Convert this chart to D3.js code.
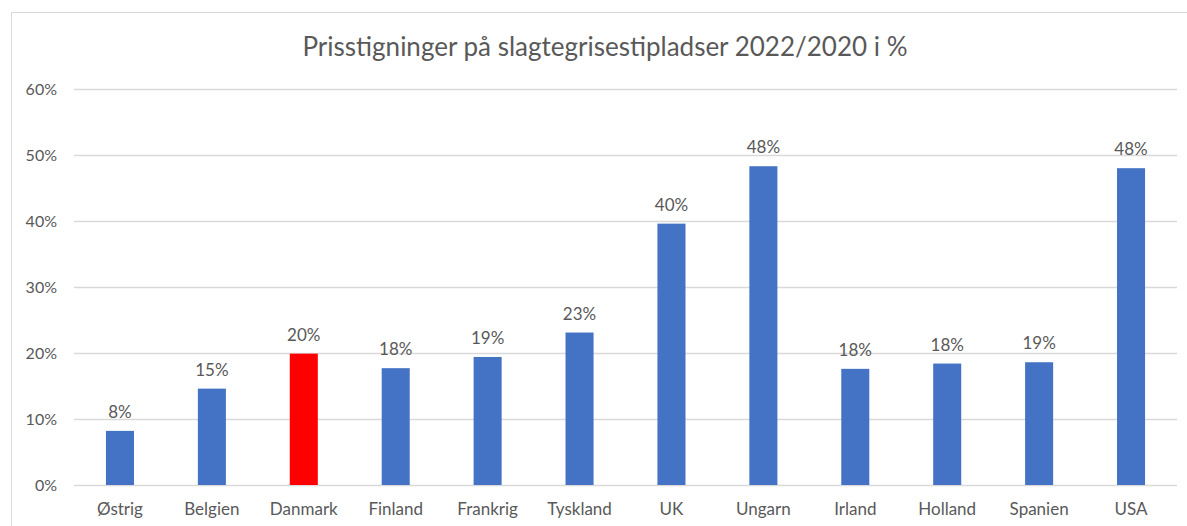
<!DOCTYPE html>
<html>
<head>
<meta charset="utf-8">
<script src="https://cdn.jsdelivr.net/npm/d3@7"></script>
<style>
  body { margin: 0; background: #fff; }
  text { font-family: Lato, "Open Sans", sans-serif; fill: #595959; }
</style>
</head>
<body>
<div id="chart"></div>
<script>
var countries = ["Østrig", "Belgien", "Danmark", "Finland", "Frankrig", "Tyskland", "UK", "Ungarn", "Irland", "Holland", "Spanien", "USA"];
var increases = [0.082, 0.146, 0.199, 0.177, 0.194, 0.231, 0.396, 0.483, 0.176, 0.184, 0.186, 0.480];
var yTicks = [0, 0.1, 0.2, 0.3, 0.4, 0.5, 0.6];
var highlight = "Danmark";

function init(){
  var w = 1187;
  var h = 526;
  var margin = {left: 74, right: 10, top: 89, bottom: 41};

  var svg = d3.select("#chart")
              .append("svg")
              .attr("width", w)
              .attr("height", h);

  // outer frame
  svg.append("rect")
     .attr("x", 11.5).attr("y", 12.5)
     .attr("width", w).attr("height", h)
     .attr("fill", "none")
     .attr("stroke", "#d9d9d9");

  var x = d3.scaleBand()
            .domain(countries)
            .range([margin.left, w - margin.right])
            .paddingInner(0.695)
            .paddingOuter(0.3475);

  var y = d3.scaleLinear()
            .domain([0, 0.6])
            .range([h - margin.bottom, margin.top]);

  // gridlines
  svg.selectAll("line.grid")
     .data(yTicks)
     .enter()
     .append("line")
     .attr("class", "grid")
     .attr("x1", margin.left)
     .attr("x2", w - margin.right)
     .attr("y1", function(d){ return Math.round(y(d)) + 0.5; })
     .attr("y2", function(d){ return Math.round(y(d)) + 0.5; })
     .attr("stroke", "#d9d9d9")
     .attr("stroke-width", 1.3);

  // y tick labels
  svg.selectAll("text.ytick")
     .data(yTicks)
     .enter()
     .append("text")
     .attr("class", "ytick")
     .attr("x", 57)
     .attr("y", function(d){ return y(d) + 6; })
     .attr("text-anchor", "end")
     .style("font-size", "16px")
     .text(d3.format(".0%"));

  // bars
  svg.selectAll("rect.bar")
     .data(increases)
     .enter()
     .append("rect")
     .attr("class", "bar")
     .attr("x", function(d, i){ return x(countries[i]); })
     .attr("y", function(d){ return y(d); })
     .attr("width", x.bandwidth())
     .attr("height", function(d){ return y(0) - y(d); })
     .attr("fill", function(d, i){ return countries[i] === highlight ? "#ff0000" : "#4472c4"; });

  // value labels
  svg.selectAll("text.val")
     .data(increases)
     .enter()
     .append("text")
     .attr("class", "val")
     .attr("x", function(d, i){ return x(countries[i]) + x.bandwidth() / 2; })
     .attr("y", function(d){ return y(d) - 13; })
     .attr("text-anchor", "middle")
     .style("font-size", "17px")
     .text(d3.format(".0%"));

  // category labels
  svg.selectAll("text.cat")
     .data(countries)
     .enter()
     .append("text")
     .attr("class", "cat")
     .attr("x", function(d){ return x(d) + x.bandwidth() / 2; })
     .attr("y", h - 11)
     .attr("text-anchor", "middle")
     .style("font-size", "17px")
     .text(function(d){ return d; });

  // title
  svg.append("text")
     .attr("x", 605)
     .attr("y", 56)
     .attr("text-anchor", "middle")
     .style("font-size", "26px")
     .text("Prisstigninger på slagtegrisestipladser 2022/2020 i %");
}
window.onload = init;
</script>
</body>
</html>
